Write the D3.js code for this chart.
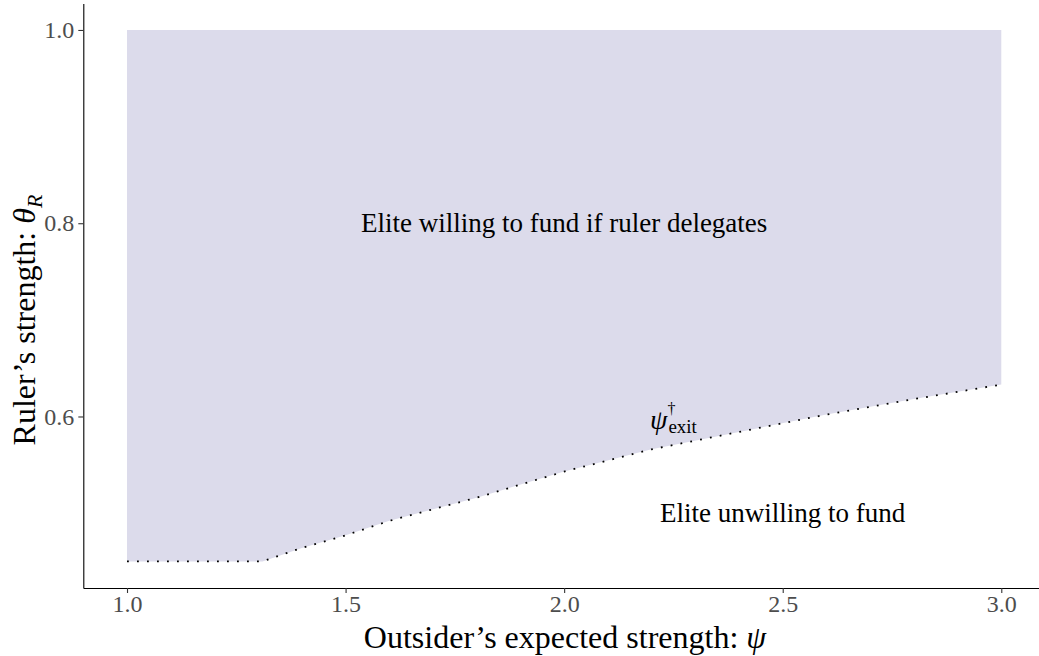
<!DOCTYPE html>
<html>
<head>
<meta charset="utf-8">
<script src="https://cdn.jsdelivr.net/npm/d3@7"></script>
<style>
  body { margin: 0; background: #fff; }
  text { font-family: "Liberation Serif", "DejaVu Serif", serif; }
</style>
</head>
<body>
<div id="chart"></div>
<script>
// Boundary psi_exit: above it the elite is willing to fund.
const psiValues   = [1.0, 1.31, 1.4, 1.5, 1.6, 1.8, 2.0, 2.2, 2.4, 2.6, 2.8, 3.0];
const thetaValues = [0.45, 0.45, 0.464, 0.477, 0.492, 0.516, 0.543, 0.566, 0.584, 0.602, 0.618, 0.633];
const thetaTop = 1.0;

const xTicks = [1.0, 1.5, 2.0, 2.5, 3.0];
const yTicks = [0.6, 0.8, 1.0];

const Width = 1039;
const Height = 656;

const x = d3.scaleLinear().domain([0.9, 3.1]).range([83.3, 1045]);
const y = d3.scaleLinear().domain([0.4225, 1.0275]).range([588, 3.4]);

const svg = d3.select("#chart")
    .append("svg")
        .attr("width", Width)
        .attr("height", Height);

const boundary = psiValues.map((p, i) => ({ psi: p, theta: thetaValues[i] }));

// Shaded region.
svg.append("path")
    .datum(boundary)
    .attr("fill", "#dcdbeb")
    .attr("d", d3.area()
        .x(d => x(d.psi))
        .y0(() => y(thetaTop))
        .y1(d => y(d.theta)));

// Dotted boundary line.
svg.append("path")
    .datum(boundary)
    .attr("fill", "none")
    .attr("stroke", "#000")
    .attr("stroke-width", 1.8)
    .attr("stroke-dasharray", "1.8,8.2")
    .attr("d", d3.line().x(d => x(d.psi)).y(d => y(d.theta)));

// Axes.
const xAxis = svg.append("g")
    .attr("transform", `translate(0,${y.range()[0]})`)
    .call(d3.axisBottom(x).tickValues(xTicks).tickFormat(d3.format(".1f"))
        .tickSize(5).tickSizeOuter(0).tickPadding(2));
const yAxis = svg.append("g")
    .attr("transform", `translate(${x.range()[0]},0)`)
    .call(d3.axisLeft(y).tickValues(yTicks).tickFormat(d3.format(".1f"))
        .tickSize(5).tickSizeOuter(0).tickPadding(4));

[xAxis, yAxis].forEach(g => {
    g.attr("font-size", null).attr("font-family", null);
    g.select(".domain").attr("stroke", "#000").attr("stroke-width", 1.1);
    g.selectAll(".tick line").attr("stroke", "#333").attr("stroke-width", 1.1);
    g.selectAll(".tick text")
        .attr("fill", "#4d4d4d")
        .attr("font-size", 24)
        .style("font-size", "24px");
});

// Region labels.
svg.append("text")
    .attr("x", x(2.0)).attr("y", y(0.8))
    .attr("text-anchor", "middle").attr("dominant-baseline", "central")
    .style("font-size", "27px")
    .text("Elite willing to fund if ruler delegates");

svg.append("text")
    .attr("x", x(2.5)).attr("y", y(0.5))
    .attr("text-anchor", "middle").attr("dominant-baseline", "central")
    .style("font-size", "27px")
    .text("Elite unwilling to fund");

const lab = svg.append("text")
    .attr("x", x(2.25)).attr("y", y(0.597))
    .attr("text-anchor", "middle").attr("dominant-baseline", "central")
    .style("font-size", "28px");
lab.append("tspan").style("font-style", "italic").text("ψ");
lab.append("tspan").attr("dy", -11).style("font-size", "16px").text("†");
lab.append("tspan").attr("dx", -7).attr("dy", 18).style("font-size", "19px").text("exit");

// Axis titles.
const xt = svg.append("text")
    .attr("x", 565).attr("y", 648)
    .attr("text-anchor", "middle")
    .style("font-size", "32px");
xt.append("tspan").text("Outsider’s expected strength: ");
xt.append("tspan").style("font-style", "italic").text("ψ");

const yt = svg.append("text")
    .attr("transform", `translate(35,${320}) rotate(-90)`)
    .attr("text-anchor", "middle")
    .style("font-size", "32px");
yt.append("tspan").text("Ruler’s strength: ");
yt.append("tspan").style("font-style", "italic").text("θ");
yt.append("tspan").attr("dy", 7).style("font-size", "22px").style("font-style", "italic").text("R");
</script>
</body>
</html>
